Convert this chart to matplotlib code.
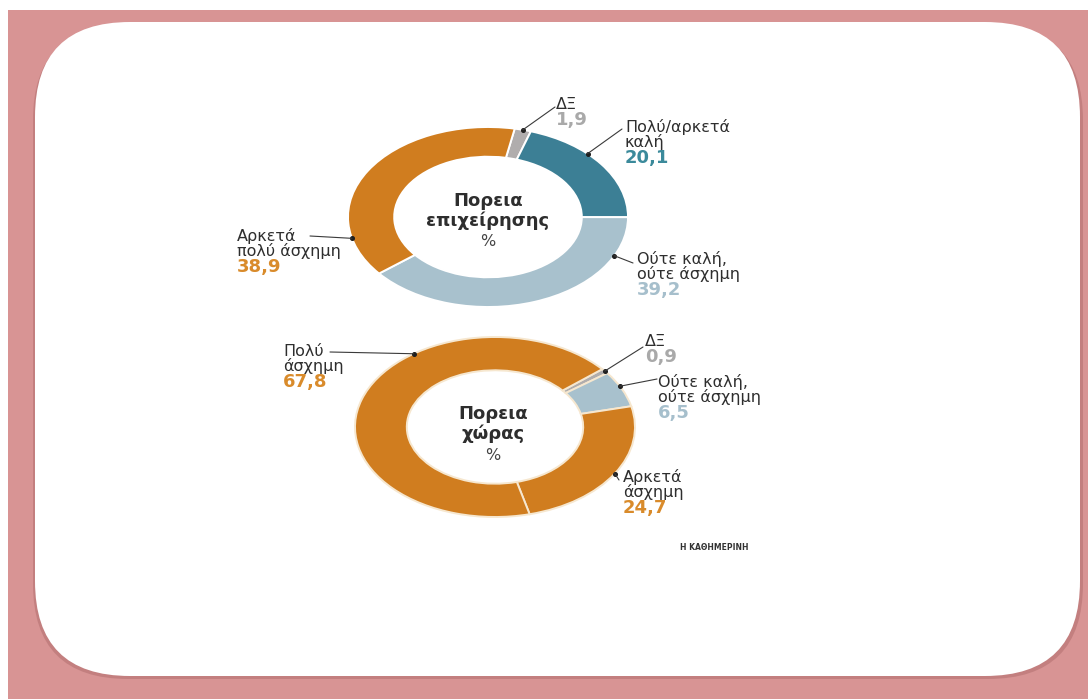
import numpy as np
import matplotlib
matplotlib.use("Agg")
import matplotlib.pyplot as plt
from matplotlib.patches import FancyBboxPatch, Rectangle

plt.rcParams['font.family'] = ['DejaVu Sans']

# ---------- data ----------
top_title = "Πορεια\nεπιχείρησης"
top_labels = ["ΔΞ", "Πολύ/αρκετά\nκαλή", "Ούτε καλή,\nούτε άσχημη", "Αρκετά\nπολύ άσχημη"]
top_values = [1.9, 20.1, 39.2, 38.9]

bottom_title = "Πορεια\nχώρας"
bottom_labels = ["ΔΞ", "Ούτε καλή,\nούτε άσχημη", "Αρκετά\nάσχημη", "Πολύ\nάσχημη"]
bottom_values = [0.9, 6.5, 24.7, 67.8]

unit = "%"
source = "Η ΚΑΘΗΜΕΡΙΝΗ"

# ---------- styles ----------
W, H = 1088, 699
ORANGE = "#d07d1f"
TEAL = "#3c7f95"
LBLUE = "#a8c1cd"
GREY = "#b0adad"
TXT = "#2e2e2e"

top_colors = [GREY, TEAL, LBLUE, ORANGE]
top_numcolors = ["#a9a9a9", "#3b8a9b", "#a6bfcc", "#d98b2b"]
bottom_colors = [GREY, LBLUE, ORANGE, ORANGE]
bottom_numcolors = ["#a9a9a9", "#a6bfcc", "#d98b2b", "#d98b2b"]

fig = plt.figure(figsize=(W / 100, H / 100), dpi=100)
fig.patch.set_facecolor("white")

# background axes in pixel coordinates
bg = fig.add_axes([0, 0, 1, 1])
bg.set_xlim(0, W)
bg.set_ylim(H, 0)
bg.axis("off")
bg.add_patch(Rectangle((8, 10), W - 8, H - 10, facecolor="#d89494", edgecolor="none"))
bg.add_patch(FancyBboxPatch((33, 25), 1050, 654, boxstyle="round,pad=0,rounding_size=95",
                            facecolor="#b57272", edgecolor="none", alpha=0.6))
bg.add_patch(FancyBboxPatch((35, 22), 1045, 654, boxstyle="round,pad=0,rounding_size=95",
                            facecolor="white", edgecolor="none"))


def donut_axes(cx, cy, rx, ry):
    return fig.add_axes([(cx - rx) / W, (H - (cy + ry)) / H, 2 * rx / W, 2 * ry / H])


def draw_donut(ax, values, colors, start, ring, edge):
    ax.pie(values, colors=colors, startangle=start, counterclock=False,
           wedgeprops=dict(width=ring, edgecolor=edge, linewidth=1.4))
    ax.set_aspect("auto")
    ax.set_xlim(-1, 1)
    ax.set_ylim(-1, 1)
    ax.patch.set_alpha(0)


def anchor(values, start, i, frac, r=1.0):
    v = np.asarray(values, dtype=float)
    cum = np.concatenate([[0], np.cumsum(v)]) / v.sum() * 360
    theta = np.deg2rad(start - cum[i] - (cum[i + 1] - cum[i]) * frac)
    return r * np.cos(theta), r * np.sin(theta)


def draw_label(x, y0, name, value, numcolor, step=15.2):
    lines = name.split("\n")
    for k, line in enumerate(lines):
        bg.text(x, y0 + k * step, line, fontsize=11.5, color=TXT, va="baseline", ha="left")
    bg.text(x, y0 + len(lines) * step + 0.5, f"{value:.1f}".replace(".", ","), fontsize=13,
            fontweight="bold", color=numcolor, va="baseline", ha="left")


def leader(ax, values, start, i, frac, end):
    pt = anchor(values, start, i, frac)
    ax.annotate("", xy=pt, xycoords="data", xytext=end, textcoords=bg.transData,
                annotation_clip=False,
                arrowprops=dict(arrowstyle="-", color="#3a3a3a", lw=0.8, shrinkA=0, shrinkB=0))
    ax.plot(*pt, "o", ms=2.6, color="#1e1e1e", clip_on=False)


# ---------- top donut ----------
top_start = 79
ax1 = donut_axes(488, 217, 140, 90)
draw_donut(ax1, top_values, top_colors, top_start, 0.33, "white")
bg.text(488, 211, top_title, ha="center", va="center", fontsize=13, fontweight="bold",
        color=TXT, linespacing=1.1)
bg.text(488, 242, unit, ha="center", va="center", fontsize=11.5, color="#444444")

top_text_pos = [(556, 109), (625, 132), (637, 264), (237, 241)]
top_line_end = [(555, 107), (622, 129), (633, 263), (310, 236)]
top_frac = [0.5, 0.38, 0.18, 0.18]
for i in range(len(top_values)):
    draw_label(*top_text_pos[i], top_labels[i], top_values[i], top_numcolors[i])
    leader(ax1, top_values, top_start, i, top_frac[i], top_line_end[i])

# ---------- bottom donut ----------
bottom_start = 40
ax2 = donut_axes(495, 427, 140, 90)
draw_donut(ax2, bottom_values, bottom_colors, bottom_start, 0.37, "#f6e7cf")
bg.text(493, 424, bottom_title, ha="center", va="center", fontsize=13, fontweight="bold",
        color=TXT, linespacing=1.1)
bg.text(493, 455, unit, ha="center", va="center", fontsize=11.5, color="#444444")

bottom_text_pos = [(645, 346), (658, 387), (623, 482), (283, 356)]
bottom_line_end = [(643, 347), (657, 379), (619, 480), (330, 352)]
bottom_frac = [0.5, 0.42, 0.5, 0.65]
for i in range(len(bottom_values)):
    draw_label(*bottom_text_pos[i], bottom_labels[i], bottom_values[i], bottom_numcolors[i])
    leader(ax2, bottom_values, bottom_start, i, bottom_frac[i], bottom_line_end[i])

bg.text(680, 548, source, fontsize=5.5, fontweight="bold", color="#333333",
        va="center", ha="left")

fig.savefig("out.png", dpi=100, facecolor=fig.get_facecolor())
